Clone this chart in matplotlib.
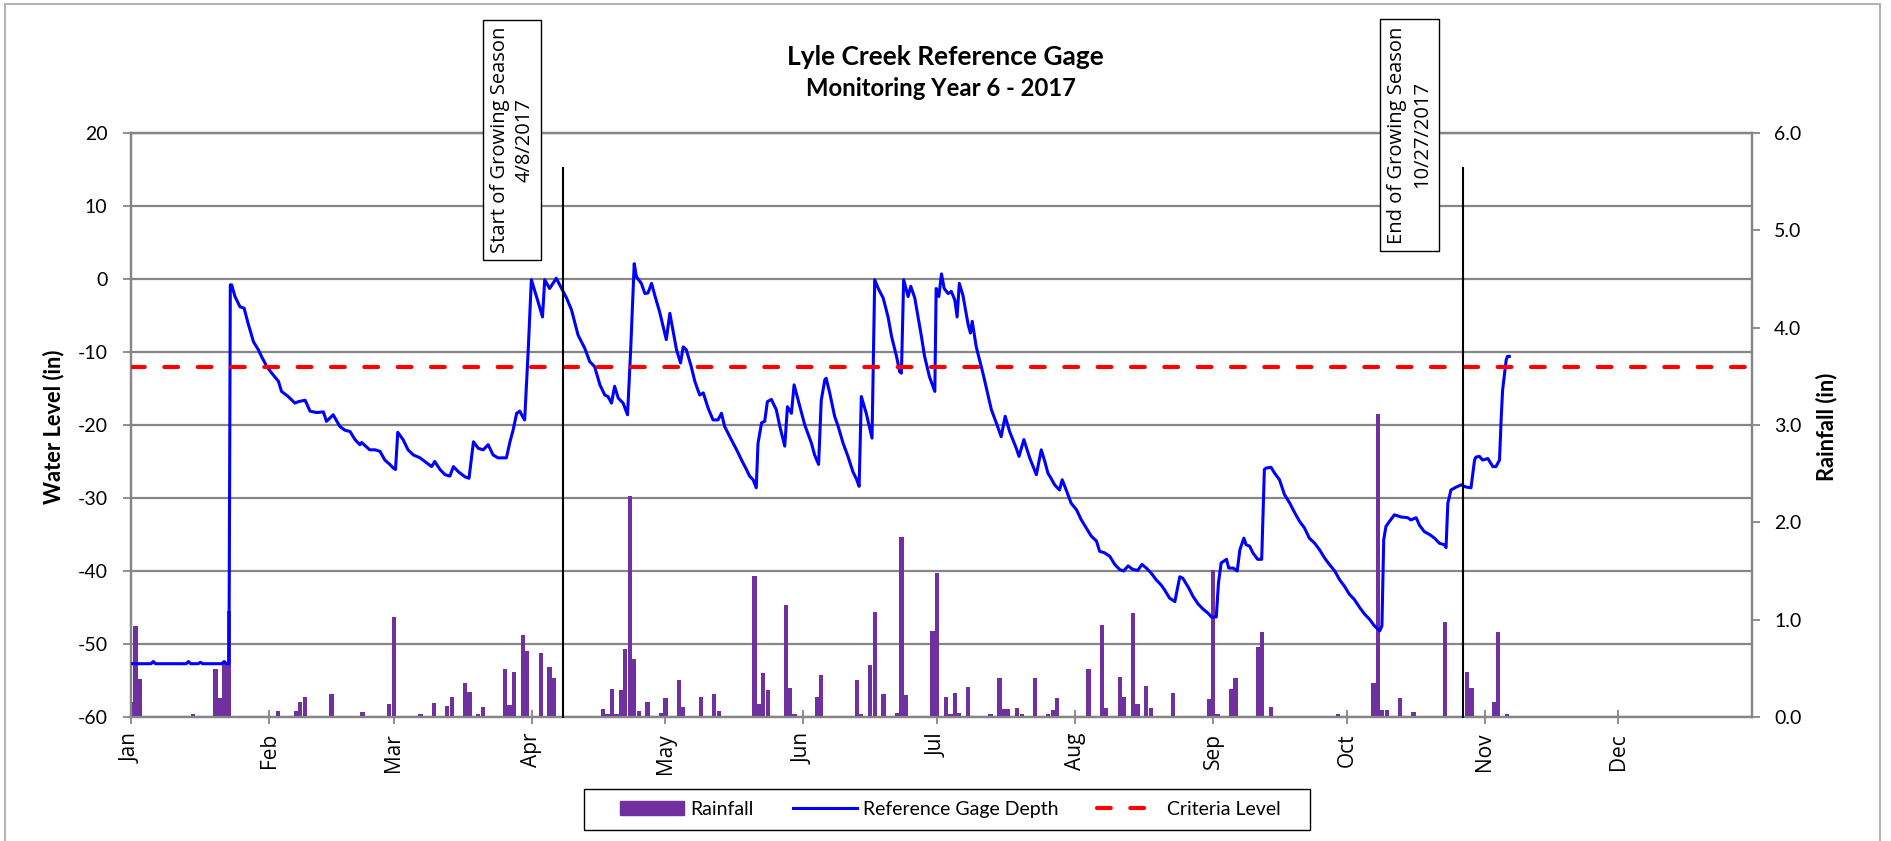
import matplotlib
matplotlib.use('Agg')
import matplotlib.pyplot as plt
import matplotlib.dates as mdates
from matplotlib.patches import Rectangle
from matplotlib.lines import Line2D
import numpy as np
import datetime as dt

# ---------------- data ----------------
start_date = dt.datetime(2017, 1, 1)

# Reference gage water level (in): day offset from Jan 1, value
level_day = [0, 4.5, 5.0, 5.5, 12.4, 12.9, 13.4, 15.1, 15.6, 16.1, 20.4, 20.9, 21.4, 22.0, 22.3,
             22.6, 23.35, 24.47, 25.4, 26.3, 27.5, 28.6, 29.3, 30.5, 31.6, 33.1, 33.8, 35.3, 36.8, 37.6,
             39.1, 40.2, 41.7, 43.2, 43.9, 45.4, 46.9, 48.0, 49.2, 50.3, 51.4,
             51.8, 53.6, 54.8, 55.9, 57.0, 58.1, 58.9, 59.4, 59.9, 61.1, 62.2, 63.4, 64.9, 66.0, 67.5, 68.2,
             69.4, 70.5, 71.6, 72.4, 73.5, 75.0, 75.9, 76.9, 78.0, 79.1, 80.2, 81.3, 82.4, 84.3, 85.1, 85.8,
             86.6, 87.3, 87.9, 88.4, 89.2, 89.9, 90.7, 91.4, 92.4, 92.9, 94.0, 95.5, 96.7, 97.8, 98.9, 100.4,
             101.9, 103.0,
             104.1, 105.3, 106.4, 107.1, 107.9, 108.6, 109.4, 110.5, 111.5, 112.2, 113.0, 113.5, 114.6, 115.4,
             116.1, 116.9, 117.6, 118.7, 120.2, 121.0, 121.7, 122.5, 123.4, 124.0, 124.7, 125.8, 126.6, 127.7,
             128.5, 129.6, 130.7, 131.8, 132.6, 133.3, 134.8, 136.0, 137.1, 138.2, 138.9, 139.7, 140.4, 140.8,
             141.6, 142.3, 142.9, 143.8, 144.9, 145.7, 146.8, 147.4, 148.3, 148.9, 150.2, 151.3, 152.8, 153.5,
             154.4, 155.0, 155.8, 156.1, 156.9, 158.0, 158.8, 159.9, 161.0, 162.1, 162.9, 163.5, 164.0, 165.1,
             166.4, 167.0, 167.8, 168.9, 170.0, 170.8, 171.9, 172.6, 173.0, 173.5, 174.5, 175.1, 176.0, 177.5,
             178.2, 179.3, 180.5, 180.8, 181.4, 182.0, 182.6, 183.5, 184.2, 185.0, 185.5, 186.0, 186.8, 188.0,
             188.5, 188.9, 189.8, 191.3, 193.2, 194.3, 195.4, 196.3, 197.3, 198.8, 199.4, 200.5, 201.8, 203.3,
             204.4, 205.2,
             205.9, 206.6, 207.4, 208.5, 209.1, 210.0, 211.1, 212.3, 213.4, 214.5, 215.6, 216.8, 217.5, 218.6,
             219.8, 220.9, 222.0, 222.9, 223.9, 225.0, 226.1, 227.0, 228.0, 229.1, 230.2, 231.3, 232.1, 233.2,
             234.4, 235.5, 236.2, 237.4, 238.5, 239.6, 240.7, 241.9, 242.6, 243.7, 244.2, 244.8, 246.0, 246.5,
             247.5, 248.4, 249.0, 249.9, 250.4, 251.2, 251.9, 253.0, 253.9, 254.5, 254.9, 256.0, 256.8,
             257.9, 259.0, 260.2, 261.3, 262.4, 263.5, 264.6, 265.8, 266.9, 268.0, 269.1, 270.3, 271.4, 272.5,
             273.6, 274.7, 275.9, 277.0, 278.1, 279.2, 280.4, 280.9, 281.3, 281.8, 282.6, 283.7, 285.2, 286.7,
             287.4, 288.6, 289.3, 290.4, 291.6, 292.7, 293.8, 294.9, 295.3, 295.7, 296.4, 297.6, 298.7, 299.8,
             300.9, 301.7, 302.0, 302.8, 303.5, 304.7, 305.8, 306.5, 307.3, 307.7, 308.0, 308.8, 309.1, 309.5]
level_val = [-52.7, -52.7, -52.4, -52.7, -52.7, -52.4, -52.7, -52.7, -52.5, -52.7, -52.7, -52.4, -52.7, -52.7, -0.8,
             -0.8, -2.4, -3.8, -4.0, -6.1, -8.6, -9.7, -10.6, -12.0, -12.9, -14.0, -15.4, -16.1, -17.0, -16.8,
             -16.6, -18.1, -18.3, -18.2, -19.5, -18.6, -20.2, -20.7, -20.9, -22.0, -22.7,
             -22.4, -23.4, -23.4, -23.6, -24.8, -25.4, -25.9, -26.1, -21.0, -22.0, -23.4, -24.1, -24.5, -25.0, -25.7, -25.0,
             -26.1, -26.8, -27.0, -25.7, -26.4, -27.1, -27.3, -22.3, -23.2, -23.4, -22.7, -24.1, -24.5, -24.5, -22.3, -20.7,
             -18.4, -18.1, -18.8, -19.3, -9.7, -0.1, -1.7, -3.1, -5.2, -0.1, -1.3, 0.1, -1.3, -2.6, -4.2, -7.7,
             -9.5, -11.3,
             -12.0, -14.5, -15.9, -16.1, -17.0, -14.7, -16.3, -17.0, -18.6, -9.7, 2.1, 0.3, -0.6, -2.0,
             -1.9, -0.6, -2.2, -4.5, -8.3, -4.7, -7.0, -9.7, -11.5, -9.3, -9.7, -12.0, -14.0, -15.9,
             -15.6, -17.7, -19.3, -19.3, -18.4, -20.2, -22.0, -23.4, -24.8, -26.1, -27.0, -27.5, -28.6, -22.5,
             -19.7, -19.5, -16.8, -16.5, -17.9, -20.2, -22.9, -17.5, -18.4, -14.5, -17.5, -20.0, -22.5, -24.1,
             -25.4, -16.6, -13.8, -13.6, -15.6, -18.8, -20.2, -22.5, -24.3, -26.4, -27.4, -28.4, -16.1, -18.4,
             -21.8, -0.1, -1.3, -2.6, -5.2, -7.9, -10.6, -12.7, -12.9, -0.1, -2.4, -1.0, -2.6, -7.9,
             -10.6, -13.4, -15.4, -1.3, -2.4, 0.7, -1.3, -2.0, -1.7, -2.9, -5.2, -0.6, -2.2, -6.3,
             -7.4, -5.8, -9.3, -12.9, -17.9, -19.7, -21.6, -18.8, -20.9, -23.2, -24.3, -22.0, -24.5, -26.8,
             -23.4, -25.0,
             -26.6, -27.3, -28.2, -28.9, -27.5, -28.9, -30.7, -31.6, -33.0, -34.1, -35.2, -35.9, -37.3, -37.5,
             -38.0, -39.1, -39.8, -40.0, -39.3, -39.8, -39.9, -39.1, -39.6, -40.3, -41.2, -41.9, -42.6, -43.7,
             -44.2, -40.8, -41.0, -42.2, -43.5, -44.5, -45.2, -45.8, -46.3, -46.3, -41.6, -38.9, -38.4, -39.6,
             -39.6, -40.0, -37.1, -35.5, -36.4, -36.6, -37.5, -38.4, -38.4, -26.1, -25.9, -25.8, -26.6,
             -27.5, -29.5, -30.7, -32.0, -33.2, -34.1, -35.5, -36.2, -37.1, -38.2, -39.1, -40.0, -41.2, -42.1,
             -43.2, -43.9, -45.0, -45.9, -46.6, -47.5, -48.2, -47.5, -35.7, -33.9, -33.2, -32.3, -32.6, -32.7,
             -33.0, -32.7, -33.7, -34.6, -35.0, -35.5, -36.2, -36.4, -36.8, -30.7, -28.9, -28.5, -28.2, -28.5,
             -28.6, -24.8, -24.4, -24.3, -24.8, -24.6, -25.7, -25.7, -24.8, -18.8, -15.2, -11.1, -10.6, -10.6]

# Daily rainfall (in): day offset from Jan 1, value
rain_day = [0, 1, 2, 14, 19, 20, 21, 22, 33, 37, 38, 39, 45, 52, 58, 59, 65, 68, 71, 72, 75, 76, 78, 79,
            84, 85, 86, 88, 89, 92, 94, 95, 106, 107, 108, 109, 110, 111, 112, 113, 114, 116, 119, 120,
            123, 124, 128, 131, 132, 140, 141, 142, 143, 147, 148, 149, 154, 155, 163, 164, 166, 167, 169,
            172, 173, 174, 180, 181, 183, 184, 185, 186, 188, 193, 195, 196, 197, 199, 200, 203, 206, 207,
            208, 215, 218, 219, 222, 223, 225, 226, 228, 229, 234, 242, 243, 244, 247, 248, 253, 254, 256,
            271, 279, 280, 281, 282, 285, 288, 295, 300, 301, 306, 307, 309]
rain_val = [0.15, 0.93, 0.39, 0.03, 0.49, 0.20, 0.55, 1.09, 0.06, 0.06, 0.15, 0.21, 0.24, 0.05, 0.13, 1.03,
            0.03, 0.14, 0.11, 0.21, 0.35, 0.26, 0.03, 0.10,
            0.49, 0.12, 0.46, 0.84, 0.68, 0.66, 0.51, 0.40, 0.08, 0.03, 0.29, 0.03, 0.28, 0.70, 2.27, 0.60,
            0.06, 0.15, 0.04, 0.20,
            0.38, 0.10, 0.21, 0.24, 0.06, 1.45, 0.13, 0.45, 0.28, 1.15, 0.30, 0.03, 0.21, 0.43, 0.38, 0.03,
            0.53, 1.08, 0.24,
            0.04, 1.85, 0.23, 0.88, 1.48, 0.21, 0.03, 0.25, 0.04, 0.31, 0.03, 0.40, 0.08, 0.08, 0.09, 0.03,
            0.40, 0.03, 0.07,
            0.20, 0.49, 0.95, 0.09, 0.41, 0.21, 1.07, 0.13, 0.32, 0.09, 0.25, 0.19, 1.51, 0.03, 0.29, 0.40,
            0.72, 0.87, 0.10,
            0.03, 0.35, 3.11, 0.07, 0.07, 0.20, 0.05, 0.98, 0.46, 0.30, 0.15, 0.87, 0.03]

criteria_level = -12
season_start = dt.datetime(2017, 4, 8)
season_end = dt.datetime(2017, 10, 27)
season_labels = ["Start of Growing Season\n4/8/2017", "End of Growing Season\n10/27/2017"]
left_ticks = [20, 10, 0, -10, -20, -30, -40, -50, -60]
right_ticks = [0.0, 1.0, 2.0, 3.0, 4.0, 5.0, 6.0]
title_lines = ["Lyle Creek Reference Gage", "Monitoring Year 6 - 2017"]
legend_labels = ["Rainfall", "Reference Gage Depth", "Criteria Level"]

# ---------------- styling ----------------
W, H = 1891, 841
GRID = '#868686'
PURPLE = '#7030A0'
LATO = 'Lato'
SEGOE = 'Open Sans'

fig = plt.figure(figsize=(W / 100, H / 100), dpi=100)
fig.patch.set_facecolor('white')

pos = [131 / W, 1 - 717 / H, (1752 - 131) / W, (717 - 133) / H]
ax = fig.add_axes(pos)
ax_r = ax.twinx()
ax_l = fig.add_axes(pos, sharex=ax, sharey=ax)
ax_l.axis('off')

lvl_dates = [start_date + dt.timedelta(days=d) for d in level_day]
rain_dates = [start_date + dt.timedelta(days=d) for d in rain_day]

x0 = mdates.date2num(start_date)
x1 = mdates.date2num(dt.datetime(2017, 12, 31))
ax.set_xlim(x0, x1)
ax.set_ylim(-60, 20)
ax_r.set_ylim(0, 6)

# grid
ax.set_yticks(left_ticks)
ax.set_yticklabels([f"{v}" for v in left_ticks], fontfamily=LATO)
ax.yaxis.grid(True, color=GRID, lw=1.6)
ax.set_axisbelow(True)
for s in list(ax.spines.values()) + list(ax_r.spines.values()):
    s.set_color(GRID)
    s.set_linewidth(1.6)

ax.tick_params(axis='y', direction='out', length=6, width=1.3, color=GRID, pad=11,
               labelsize=14, labelcolor='black')

ax_r.set_yticks(right_ticks)
ax_r.set_yticklabels([f"{v:.1f}" for v in right_ticks], fontfamily=LATO)
ax_r.tick_params(axis='y', direction='out', length=6, width=1.3, color=GRID, pad=10,
                 labelsize=14, labelcolor='black')

ax.xaxis.set_major_locator(mdates.MonthLocator())
ax.xaxis.set_major_formatter(mdates.DateFormatter('%b'))
ax.tick_params(axis='x', direction='inout', length=10, width=1.3, color=GRID, pad=6.5,
               labelsize=15, labelrotation=90)
for t in ax.get_xticklabels():
    t.set_fontfamily(SEGOE)
ax_r.tick_params(axis='x', bottom=False, labelbottom=False)

# rainfall bars
ax_r.bar(rain_dates, rain_val, width=0.95, color=PURPLE, linewidth=0, zorder=2)

# level line, criteria, season lines
ax_l.plot(lvl_dates, level_val, color='#0000FF', lw=2.2, zorder=3, solid_joinstyle='round')
ax_l.axhline(criteria_level, color='#FF0000', lw=3, dashes=(3.3, 4.7), dash_capstyle='round', zorder=4)
for d in (season_start, season_end):
    ax_l.plot([d, d], [-60, 15.2], color='black', lw=1.5, zorder=5, clip_on=False)

# labels
ylab_l = fig.text(54 / W, 1 - 427 / H, "Water Level (in)", rotation=90, ha='center', va='center',
                  fontsize=14, fontweight='bold', fontfamily=LATO)
ylab_r = fig.text(1827 / W, 1 - 427 / H, "Rainfall (in)", rotation=90, ha='center', va='center',
                  fontsize=14, fontweight='bold', fontfamily=LATO)
t1 = fig.text(945.3 / W, 1 - 57 / H, title_lines[0], ha='center', va='center', fontsize=19,
              fontweight='bold', fontfamily=LATO)
t2 = fig.text(941.5 / W, 1 - 88 / H, title_lines[1], ha='center', va='center', fontsize=17,
              fontweight='bold', fontfamily=LATO)

box_texts = []
for (cx, cy), lab in zip([(512, 140), (1409.5, 135)], season_labels):
    box_texts.append(fig.text(cx / W, 1 - cy / H, lab, rotation=90, ha='center', va='center',
                              multialignment='center', fontsize=14.5, fontfamily=SEGOE,
                              linespacing=1.3, zorder=10,
                              bbox=dict(boxstyle='square,pad=0.35', fc='white', ec='black', lw=1)))

# fit text sizes to the measured pixel extents of the reference
fig.canvas.draw()
rend = fig.canvas.get_renderer()


def fit(txt, target, horizontal=True):
    bb = txt.get_window_extent(rend)
    cur = bb.width if horizontal else bb.height
    txt.set_fontsize(txt.get_fontsize() * target / cur)


fit(t1, 316)
fit(t2, 271)
fit(ylab_l, 155, horizontal=False)
ylab_r.set_fontsize(ylab_l.get_fontsize())

# legend
handles = [Rectangle((0, 0), 1, 1, color=PURPLE),
           Line2D([], [], color='#0000FF', lw=2.2),
           Line2D([], [], color='#FF0000', lw=3, dashes=(3.3, 4.7), dash_capstyle='round')]
leg = fig.legend(handles, legend_labels,
                 loc='center', bbox_to_anchor=(950.5 / W, 1 - 809.5 / H), ncol=3, frameon=False,
                 prop={'family': LATO, 'size': 14},
                 handlelength=3.3, handletextpad=0.3, columnspacing=2.0, borderpad=0.45)
fig.patches.append(Rectangle((584 / W, 1 - 830 / H), (1310 - 584) / W, (830 - 789) / H,
                             transform=fig.transFigure, fill=False, ec='black', lw=1.0))

# outer border
fig.patches.append(Rectangle((5 / W, -0.02), (1880 - 5) / W, 1 - 4 / H + 0.02,
                             transform=fig.transFigure, fill=False, ec='#B4B4B4', lw=1.5))

fig.savefig('out.png', dpi=100, facecolor='white')
